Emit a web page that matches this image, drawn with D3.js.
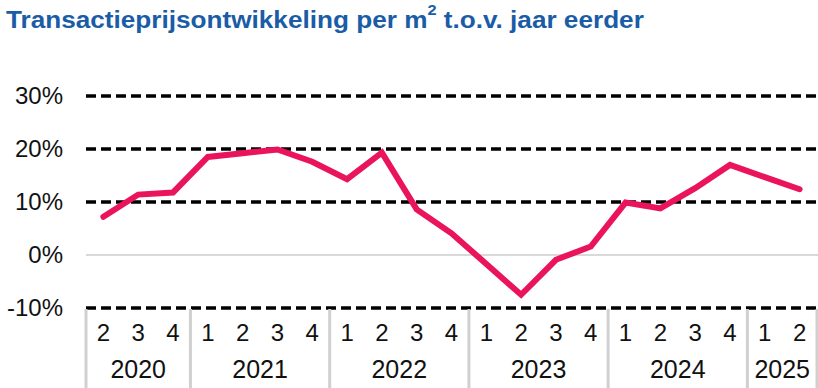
<!DOCTYPE html>
<html>
<head>
<meta charset="utf-8">
<script src="https://cdn.jsdelivr.net/npm/d3@7"></script>
<style>
  body { margin: 0; background: #fff; }
  text { font-family: "Liberation Sans", Arial, sans-serif; }
</style>
</head>
<body>
<svg></svg>
<script>
var width = 818;
var height = 388;

// kwartalen en jaren
var quarters = ["2", "3", "4", "1", "2", "3", "4", "1", "2", "3", "4",
                "1", "2", "3", "4", "1", "2", "3", "4", "1", "2"];
var years = ["2020", "2021", "2022", "2023", "2024", "2025"];
var quartersPerYear = [3, 4, 4, 4, 4, 2];
var values = [7.2, 11.4, 11.8, 18.5, 19.2, 19.9, 17.6, 14.3, 19.3, 8.6, 4.1,
              -1.7, -7.5, -0.9, 1.6, 9.9, 8.8, 12.6, 17.0, 14.7, 12.4];
var yTicks = [-10, 0, 10, 20, 30];

var plotLeft = 86, plotRight = 817, plotTop = 96, plotBottom = 308;

var svg = d3.select("svg")
    .attr("width", width)
    .attr("height", height);

var xScale = d3.scaleBand()
    .domain(d3.range(values.length))
    .range([plotLeft, plotRight])
    .padding(0);

var yScale = d3.scaleLinear()
    .domain([-10, 30])
    .range([plotBottom, plotTop]);

// titel
var title = svg.append("text")
    .attr("x", 6)
    .attr("y", 28)
    .attr("fill", "#1a5ca6")
    .style("font-size", "24px")
    .style("font-weight", "bold");
title.append("tspan").text("Transactieprijsontwikkeling per m");
title.append("tspan").attr("dy", -13).style("font-size", "15px").text("2");
title.append("tspan").attr("dy", 13).text(" t.o.v. jaar eerder");

// titel iets breder trekken zoals in het origineel
var tw = title.node().getBBox().width;
title.attr("transform", `translate(6,0) scale(${638 / tw},1) translate(-6,0)`);

// gridlijnen
svg.append("g")
    .selectAll("line")
    .data(yTicks)
    .enter()
    .append("line")
    .attr("x1", plotLeft)
    .attr("x2", width)
    .attr("y1", d => yScale(d))
    .attr("y2", d => yScale(d))
    .attr("stroke", d => d === 0 ? "#d9d9d9" : "#000")
    .attr("stroke-width", d => d === 0 ? 2 : 3.5)
    .attr("stroke-dasharray", d => d === 0 ? null : "10,5");

// y-as labels
svg.append("g")
    .selectAll("text")
    .data(yTicks)
    .enter()
    .append("text")
    .attr("x", 63)
    .attr("y", d => yScale(d) + 8)
    .style("text-anchor", "end")
    .style("font-size", "24px")
    .attr("fill", "#111")
    .text(d => d + "%");

// x-as: scheidingslijnen tussen jaren
var starts = [0];
quartersPerYear.forEach((n, i) => starts.push(starts[i] + n));
var sepX = starts.map(s => s < values.length ? xScale(s) : plotRight);

svg.append("g")
    .selectAll("line")
    .data(sepX)
    .enter()
    .append("line")
    .attr("x1", d => d)
    .attr("x2", d => d)
    .attr("y1", plotBottom + 1)
    .attr("y2", height)
    .attr("stroke", "#d0d0d0")
    .attr("stroke-width", 3);

// kwartaal labels
svg.append("g")
    .selectAll("text")
    .data(quarters)
    .enter()
    .append("text")
    .attr("x", (d, i) => xScale(i) + xScale.bandwidth() / 2)
    .attr("y", 341)
    .style("text-anchor", "middle")
    .style("font-size", "24px")
    .attr("fill", "#111")
    .text(d => d);

// jaar labels
svg.append("g")
    .selectAll("text")
    .data(years)
    .enter()
    .append("text")
    .attr("x", (d, i) => (sepX[i] + sepX[i + 1]) / 2)
    .attr("y", 378)
    .style("text-anchor", "middle")
    .style("font-size", "25px")
    .attr("fill", "#111")
    .text(d => d);

// lijn
var line = d3.line()
    .x((d, i) => xScale(i) + xScale.bandwidth() / 2)
    .y(d => yScale(d));

svg.append("path")
    .datum(values)
    .attr("d", line)
    .attr("fill", "none")
    .attr("stroke", "#ea145c")
    .attr("stroke-width", 6)
    .attr("stroke-linejoin", "miter")
    .attr("stroke-linecap", "round");
</script>
</body>
</html>
